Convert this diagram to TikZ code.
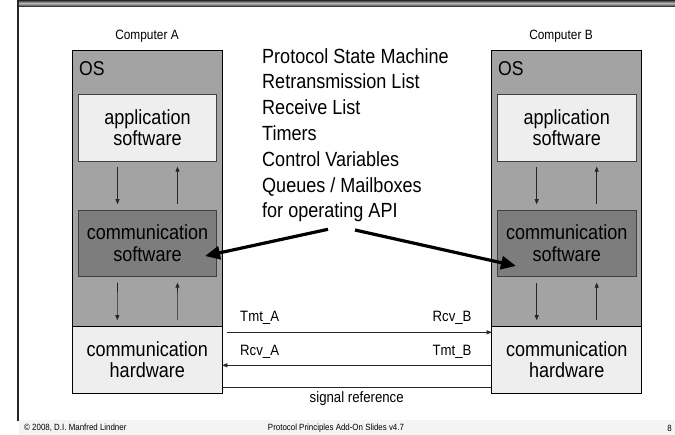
\documentclass[tikz,border=0pt]{standalone}
\usepackage{fontspec}
\setmainfont{Liberation Sans}[FakeStretch=0.88]
\usetikzlibrary{arrows.meta}
\definecolor{osgray}{RGB}{163,163,163}
\definecolor{commgray}{RGB}{125,125,125}
\definecolor{paleface}{RGB}{238,238,238}
\definecolor{footband}{RGB}{244,244,244}
\newcommand\fsz[2]{\fontsize{#1}{#2}\selectfont}
\begin{document}
\begin{tikzpicture}[x=1pt,y=-1pt,
  osframe/.style={rectangle, draw=black, line width=0.8pt, fill=osgray,
    minimum width=150pt, minimum height=276pt, inner sep=0pt, outer sep=0pt},
  layerbox/.style={rectangle, draw=black!75, line width=0.7pt, align=center,
    inner sep=0pt, outer sep=0pt, font=\fsz{20.5}{21.5}},
  softbox/.style={layerbox, fill=paleface, minimum width=138.5pt, minimum height=66.7pt},
  commbox/.style={layerbox, fill=commgray, minimum width=138.5pt, minimum height=66.7pt},
  hwbox/.style={layerbox, draw=black, fill=paleface, minimum width=150pt, minimum height=66.2pt},
  thinarrow/.style={draw=black!85, line width=0.6pt, -{Triangle[length=5pt,width=4pt]}},
  sigline/.style={draw=black!85, line width=0.6pt},
  bigarrow/.style={draw=black, line width=3.2pt, -{Triangle[length=15pt,width=13pt]}},
  small/.style={font=\fsz{13.5}{15}, inner sep=0pt},
  sig/.style={font=\fsz{15}{17}, inner sep=0pt},
  foot/.style={font=\fsz{9}{10}, inner sep=0pt}]
\useasboundingbox (0,0) rectangle (675,435);
\fill[white] (0,0) rectangle (675,435);

% slide frame: title bar, left rule, footer band
\shade[top color=black!85, bottom color=black!85, middle color=black!25] (17,0) rectangle (675,6.5);
\draw[black!85, line width=2pt] (18,0) -- (18,421);
\fill[footband] (19,420) rectangle (675,435);
\node[foot, anchor=west] (copy) at (24,428) {© 2008, D.I. Manfred Lindner};
\node[foot] (title) at (336,428) {Protocol Principles Add-On Slides v4.7};
\node[foot, anchor=east] (page) at (672,428) {8};

% computer A
\node[small] (compA) at (147,36) {Computer A};
\node[osframe] (osA) at (147.3,188.7) {};
\node[font=\fsz{20}{22}, inner sep=0pt, anchor=west] (osAlbl) at (79,69) {OS};
\node[softbox] (appA) at (147.5,127.6) {application\\software};
\node[commbox] (commA) at (147.5,243.3) {communication\\software};
\node[hwbox] (hwA) at (147.3,359.8) {communication\\hardware};

% computer B
\node[small] (compB) at (561,36) {Computer B};
\node[osframe] (osB) at (566.7,188.7) {};
\node[font=\fsz{20}{22}, inner sep=0pt, anchor=west] (osBlbl) at (498,69) {OS};
\node[softbox] (appB) at (566.7,127.6) {application\\software};
\node[commbox] (commB) at (566.7,243.3) {communication\\software};
\node[hwbox] (hwB) at (566.7,359.8) {communication\\hardware};

% vertical service arrows inside both stacks
\foreach \c in {A,B}{
  \draw[thinarrow] ([xshift=-30pt,yshift=-5.7pt]app\c.south) -- ([xshift=-30pt,yshift=5.7pt]comm\c.north);
  \draw[thinarrow] ([xshift=30pt,yshift=5.7pt]comm\c.north) -- ([xshift=30pt,yshift=-5.7pt]app\c.south);
  \draw[thinarrow] ([xshift=-30pt,yshift=-6pt]comm\c.south) -- ([xshift=-30pt,yshift=6.5pt]hw\c.north);
  \draw[thinarrow] ([xshift=30pt,yshift=6.5pt]hw\c.north) -- ([xshift=30pt,yshift=-6pt]comm\c.south);
}

% protocol data kept by the communication software
\node[font=\fsz{20.5}{25.8}, align=left, inner sep=0pt, anchor=north west] (list) at (262,48)
  {Protocol State Machine\\Retransmission List\\Receive List\\Timers\\Control Variables\\Queues / Mailboxes\\for operating API};
\coordinate (srcA) at (328,229.3);
\coordinate (srcB) at (355,230);
\draw[bigarrow] (srcA) -- ([xshift=57.5pt,yshift=-12.7pt]commA.center);
\draw[bigarrow] (srcB) -- ([xshift=-50.7pt,yshift=-22.7pt]commB.center);

% physical link between the hardware boxes
\draw[thinarrow] ([xshift=5pt,yshift=-5.6pt]hwA.north east) -- ([yshift=-5.6pt]hwB.north west);
\draw[thinarrow] ([yshift=-38.6pt]hwB.north west) -- ([yshift=-38.6pt]hwA.north east);
\draw[sigline] ([yshift=-60.6pt]hwA.north east) -- ([yshift=-60.6pt]hwB.north west);
\node[sig, anchor=west] (tmtA) at (240,318) {Tmt\_A};
\node[sig, anchor=east] (rcvB) at (471.7,318) {Rcv\_B};
\node[sig, anchor=west] (rcvA) at (240,351.7) {Rcv\_A};
\node[sig, anchor=east] (tmtB) at (471.7,351.7) {Tmt\_B};
\node[sig] (sigref) at (356.7,398.3) {signal reference};
\end{tikzpicture}
\end{document}
